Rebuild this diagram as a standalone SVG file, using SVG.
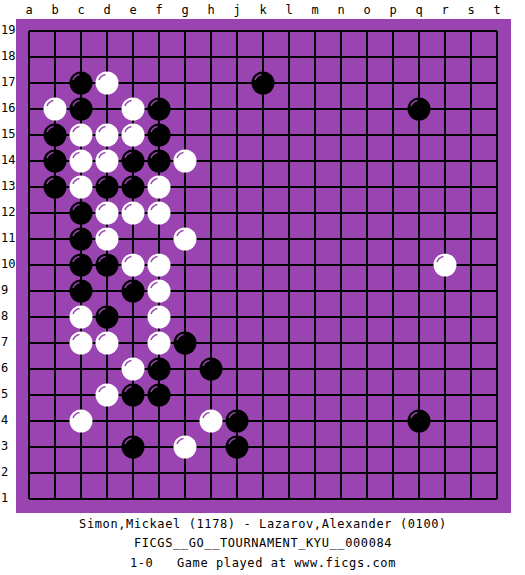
<svg xmlns="http://www.w3.org/2000/svg" xmlns:xlink="http://www.w3.org/1999/xlink" width="525" height="575" viewBox="0 0 525 575">
<style>
.lbl{font-family:"DejaVu Sans Mono","Liberation Mono",monospace;font-size:12px;fill:#000}
.ttl{font-family:"DejaVu Sans Mono","Liberation Mono",monospace;font-size:12px;letter-spacing:0.6px;fill:#000;text-anchor:middle}
.grid line{stroke:#000;stroke-width:2}
.hl{fill:none;stroke:#9944b0;stroke-width:1.5}
</style>
<defs>
<g id="B"><circle r="11.5" fill="#000"/><path class="hl" d="M-8,-2.9 A8.5 8.5 0 0 1 -1.5,-8.4"/></g>
<g id="W"><circle r="11.5" fill="#fff"/><path class="hl" d="M-8,-2.9 A8.5 8.5 0 0 1 -1.5,-8.4"/></g>
</defs>
<rect width="525" height="575" fill="#fff"/>
<rect id="board" x="16" y="19" width="495" height="494" fill="#9944b0"/>
<g id="grid" class="grid">
<line x1="29" y1="31" x2="497" y2="31"/><line x1="29" y1="57" x2="497" y2="57"/><line x1="29" y1="83" x2="497" y2="83"/><line x1="29" y1="109" x2="497" y2="109"/><line x1="29" y1="135" x2="497" y2="135"/><line x1="29" y1="161" x2="497" y2="161"/><line x1="29" y1="187" x2="497" y2="187"/><line x1="29" y1="213" x2="497" y2="213"/><line x1="29" y1="239" x2="497" y2="239"/><line x1="29" y1="265" x2="497" y2="265"/><line x1="29" y1="291" x2="497" y2="291"/><line x1="29" y1="317" x2="497" y2="317"/><line x1="29" y1="343" x2="497" y2="343"/><line x1="29" y1="369" x2="497" y2="369"/><line x1="29" y1="395" x2="497" y2="395"/><line x1="29" y1="421" x2="497" y2="421"/><line x1="29" y1="447" x2="497" y2="447"/><line x1="29" y1="473" x2="497" y2="473"/><line x1="29" y1="499" x2="497" y2="499"/>
<line x1="29" y1="31" x2="29" y2="499"/><line x1="55" y1="31" x2="55" y2="499"/><line x1="81" y1="31" x2="81" y2="499"/><line x1="107" y1="31" x2="107" y2="499"/><line x1="133" y1="31" x2="133" y2="499"/><line x1="159" y1="31" x2="159" y2="499"/><line x1="185" y1="31" x2="185" y2="499"/><line x1="211" y1="31" x2="211" y2="499"/><line x1="237" y1="31" x2="237" y2="499"/><line x1="263" y1="31" x2="263" y2="499"/><line x1="289" y1="31" x2="289" y2="499"/><line x1="315" y1="31" x2="315" y2="499"/><line x1="341" y1="31" x2="341" y2="499"/><line x1="367" y1="31" x2="367" y2="499"/><line x1="393" y1="31" x2="393" y2="499"/><line x1="419" y1="31" x2="419" y2="499"/><line x1="445" y1="31" x2="445" y2="499"/><line x1="471" y1="31" x2="471" y2="499"/><line x1="497" y1="31" x2="497" y2="499"/>
</g>
<g id="collabels" class="lbl" text-anchor="middle">
<text x="29" y="14">a</text><text x="55" y="14">b</text><text x="81" y="14">c</text><text x="107" y="14">d</text><text x="133" y="14">e</text><text x="159" y="14">f</text><text x="185" y="14">g</text><text x="211" y="14">h</text><text x="237" y="14">j</text><text x="263" y="14">k</text><text x="289" y="14">l</text><text x="315" y="14">m</text><text x="341" y="14">n</text><text x="367" y="14">o</text><text x="393" y="14">p</text><text x="419" y="14">q</text><text x="445" y="14">r</text><text x="471" y="14">s</text><text x="497" y="14">t</text>
</g>
<g id="rowlabels" class="lbl">
<text x="1" y="34">19</text><text x="1" y="60">18</text><text x="1" y="86">17</text><text x="1" y="112">16</text><text x="1" y="138">15</text><text x="1" y="164">14</text><text x="1" y="190">13</text><text x="1" y="216">12</text><text x="1" y="242">11</text><text x="1" y="268">10</text><text x="1" y="294">9</text><text x="1" y="320">8</text><text x="1" y="346">7</text><text x="1" y="372">6</text><text x="1" y="398">5</text><text x="1" y="424">4</text><text x="1" y="450">3</text><text x="1" y="476">2</text><text x="1" y="502">1</text>
</g>
<g id="stones">
<use href="#B" x="81" y="83"/><use href="#W" x="107" y="83"/><use href="#B" x="263" y="83"/>
<use href="#W" x="55" y="109"/><use href="#B" x="81" y="109"/><use href="#W" x="133" y="109"/><use href="#B" x="159" y="109"/><use href="#B" x="419" y="109"/>
<use href="#B" x="55" y="135"/><use href="#W" x="81" y="135"/><use href="#W" x="107" y="135"/><use href="#W" x="133" y="135"/><use href="#B" x="159" y="135"/>
<use href="#B" x="55" y="161"/><use href="#W" x="81" y="161"/><use href="#W" x="107" y="161"/><use href="#B" x="133" y="161"/><use href="#B" x="159" y="161"/><use href="#W" x="185" y="161"/>
<use href="#B" x="55" y="187"/><use href="#W" x="81" y="187"/><use href="#B" x="107" y="187"/><use href="#B" x="133" y="187"/><use href="#W" x="159" y="187"/>
<use href="#B" x="81" y="213"/><use href="#W" x="107" y="213"/><use href="#W" x="133" y="213"/><use href="#W" x="159" y="213"/>
<use href="#B" x="81" y="239"/><use href="#W" x="107" y="239"/><use href="#W" x="185" y="239"/>
<use href="#B" x="81" y="265"/><use href="#B" x="107" y="265"/><use href="#W" x="133" y="265"/><use href="#W" x="159" y="265"/><use href="#W" x="445" y="265"/>
<use href="#B" x="81" y="291"/><use href="#B" x="133" y="291"/><use href="#W" x="159" y="291"/>
<use href="#W" x="81" y="317"/><use href="#B" x="107" y="317"/><use href="#W" x="159" y="317"/>
<use href="#W" x="81" y="343"/><use href="#W" x="107" y="343"/><use href="#W" x="159" y="343"/><use href="#B" x="185" y="343"/>
<use href="#W" x="133" y="369"/><use href="#B" x="159" y="369"/><use href="#B" x="211" y="369"/>
<use href="#W" x="107" y="395"/><use href="#B" x="133" y="395"/><use href="#B" x="159" y="395"/>
<use href="#W" x="81" y="421"/><use href="#W" x="211" y="421"/><use href="#B" x="237" y="421"/><use href="#B" x="419" y="421"/>
<use href="#B" x="133" y="447"/><use href="#W" x="185" y="447"/><use href="#B" x="237" y="447"/>
</g>
<g id="caption">
<text class="ttl" x="263" y="528">Simon,Mickael (1178) - Lazarov,Alexander (0100)</text>
<text class="ttl" x="263" y="547">FICGS__GO__TOURNAMENT_KYU__000084</text>
<text class="ttl" x="263" y="567" xml:space="preserve">1-0   Game played at www.ficgs.com</text>
</g>
</svg>
